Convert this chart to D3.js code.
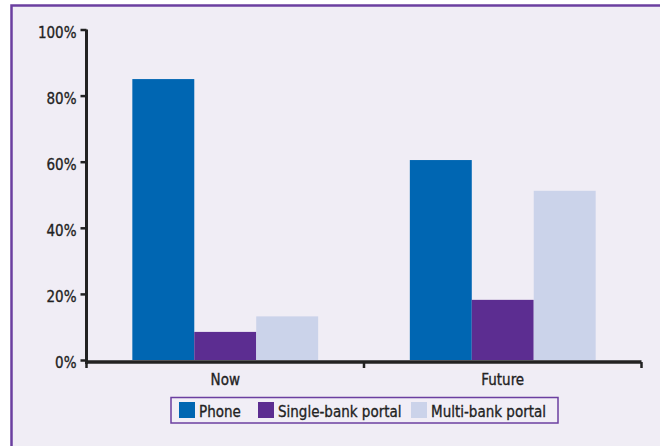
<!DOCTYPE html>
<html>
<head>
<meta charset="utf-8">
<script src="https://cdn.jsdelivr.net/npm/d3@7"></script>
<style>
  html, body { margin: 0; padding: 0; background: #ffffff; }
  svg { display: block; }
  text { font-family: "DejaVu Sans Condensed", "DejaVu Sans", sans-serif; fill: #222; stroke: #222; stroke-width: 0.3px; }
</style>
</head>
<body>
<svg id="chart" width="660" height="446"></svg>
<script>
// Data
const categories = ["Now", "Future"];
const seriesNames = ["Phone", "Single-bank portal", "Multi-bank portal"];
const phone = [85, 60.5];
const singleBank = [8.5, 18.2];
const multiBank = [13.2, 51.2];
const yTicks = [0, 20, 40, 60, 80, 100];
const seriesColors = ["#0066b2", "#5c2d91", "#cbd3ea"];

const seriesValues = [phone, singleBank, multiBank];
const rows = categories.map((c, i) => ({
  category: c,
  values: seriesNames.map((s, k) => ({ series: s, value: seriesValues[k][i] }))
}));

const svg = d3.select("#chart");

// Panel background and frame
svg.append("rect")
  .attr("x", 11.5).attr("y", 5.5)
  .attr("width", 700).attr("height", 500)
  .attr("fill", "#f0edf5")
  .attr("stroke", "#6b3fa0")
  .attr("stroke-width", 2.5);

// Scales
const x0 = d3.scaleBand().domain(categories).range([86.5, 641.5]).paddingInner(0).paddingOuter(0);
const x1 = d3.scaleBand().domain(seriesNames).range([0, x0.bandwidth()]).paddingInner(0).paddingOuter(0.74);
const y = d3.scaleLinear().domain([0, 100]).range([360, 29.5]);
const color = d3.scaleOrdinal().domain(seriesNames).range(seriesColors);

// Bars
const groups = svg.append("g").selectAll("g")
  .data(rows).join("g")
  .attr("transform", d => `translate(${x0(d.category)},0)`);

groups.selectAll("rect")
  .data(d => d.values).join("rect")
  .attr("x", d => x1(d.series))
  .attr("width", x1.bandwidth())
  .attr("y", d => y(d.value))
  .attr("height", d => y(0) - y(d.value))
  .attr("fill", d => color(d.series));

// Y axis
const yAxis = svg.append("g")
  .attr("transform", "translate(86.5,0)")
  .call(d3.axisLeft(y).tickValues(yTicks).tickFormat(d => d + "%").tickSize(6).tickSizeOuter(0).tickPadding(4));
yAxis.select(".domain").attr("stroke", "#222").attr("stroke-width", 3)
  .attr("d", `M0,${y(100)}V${y(0) + 4}`);
yAxis.selectAll(".tick line").attr("stroke", "#222").attr("stroke-width", 2.5);
yAxis.selectAll(".tick text")
  .attr("dy", "0.5em")
  .style("font-size", "15px")
  .style("font-family", "'DejaVu Sans Condensed', 'DejaVu Sans', sans-serif")
  .attr("fill", "#222");

// X axis
const xAxisScale = d3.scalePoint().domain(categories).range([x0("Now") + x0.bandwidth() / 2, x0("Future") + x0.bandwidth() / 2]);
const xAxis = svg.append("g").attr("transform", `translate(0,${y(0) + 2})`);
xAxis.append("path")
  .attr("d", `M${x0.range()[0] - 1.5},0H${x0.range()[1]}`)
  .attr("stroke", "#222").attr("stroke-width", 3.5).attr("fill", "none");
const boundaries = [x0.range()[0], x0("Future"), x0.range()[1]];
xAxis.selectAll("line.bound")
  .data(boundaries).join("line")
  .attr("class", "bound")
  .attr("x1", d => d).attr("x2", d => d)
  .attr("y1", 0).attr("y2", 6)
  .attr("stroke", "#222").attr("stroke-width", 2.5);
xAxis.selectAll("text.cat")
  .data(categories).join("text")
  .attr("class", "cat")
  .attr("x", d => xAxisScale(d))
  .attr("y", 23)
  .attr("text-anchor", "middle")
  .style("font-size", "15px")
  .text(d => d);

// Legend
const legend = svg.append("g");
legend.append("rect")
  .attr("x", 171).attr("y", 397.5)
  .attr("width", 387).attr("height", 25.5)
  .attr("fill", "#f1eef6")
  .attr("stroke", "#6b3fa0")
  .attr("stroke-width", 1.5);
const legendX = [179, 258, 411];
const items = legend.selectAll("g.item")
  .data(seriesNames).join("g")
  .attr("class", "item")
  .attr("transform", (d, i) => `translate(${legendX[i]},402)`);
items.append("rect")
  .attr("width", 16).attr("height", 16)
  .attr("fill", d => color(d));
items.append("text")
  .attr("x", 20).attr("y", 14.5)
  .style("font-size", "15px")
  .text(d => d);
</script>
</body>
</html>
